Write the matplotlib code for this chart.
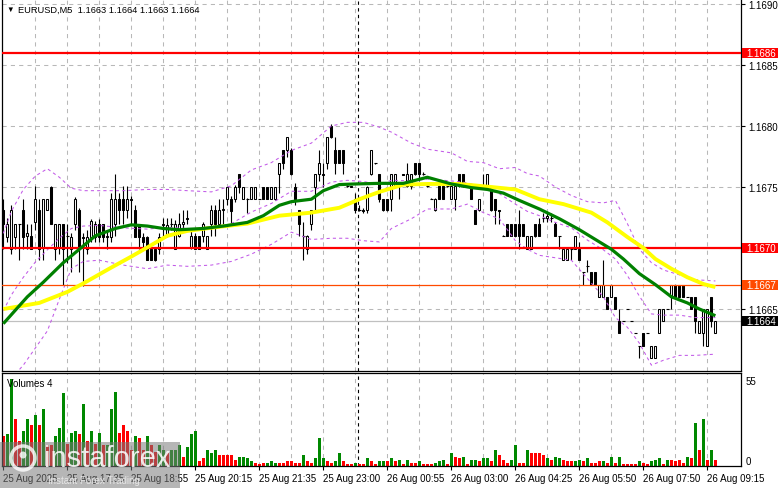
import numpy as np
import matplotlib
matplotlib.use("Agg")
import matplotlib.pyplot as plt
from matplotlib.patches import Rectangle, Ellipse
from matplotlib.transforms import blended_transform_factory

plt.rcParams['font.family'] = ['Liberation Sans', 'DejaVu Sans']

# ---------------- data (prices as pips above 1.1660) ----------------
BASE = 1.1660
PIP = 0.0001

open_pips = [
    13.1, 10.9, 9.9, 10.9, 12.0, 13.1, 11.0, 11.0, 12.1, 13.1,
    10.0, 13.1, 15.0, 9.9, 10.0, 12.0, 11.0, 9.9, 12.0, 13.1,
    10.9, 9.9, 10.9, 10.9, 12.0, 12.0, 10.9, 10.9, 12.0, 14.0,
    14.0, 13.1, 14.0, 13.1, 12.0, 10.9, 10.9, 9.9, 9.9, 9.9,
    11.9, 11.0, 12.0, 9.9, 11.0, 12.0, 12.5, 10.1, 11.0, 11.0,
    11.0, 9.9, 12.0, 13.1, 12.0, 13.1, 14.0, 14.0, 14.0, 16.1,
    14.0, 14.0, 14.0, 14.0, 14.0, 15.0, 15.0, 14.0, 14.0, 16.1,
    18.0, 18.0, 18.0, 15.0, 13.1, 11.0, 9.9, 12.0, 15.0, 16.1,
    16.1, 17.0, 20.0, 18.0, 18.0, 18.0, 15.1, 15.1, 14.0, 13.1,
    13.1, 13.1, 16.1, 17.0, 16.1, 14.0, 14.0, 14.0, 15.1, 15.1,
    16.1, 15.1, 15.1, 17.0, 17.0, 16.1, 15.1, 14.0, 13.1, 15.1,
    15.1, 15.1, 14.0, 14.0, 16.1, 16.1, 15.1, 15.1, 13.1, 13.1,
    15.1, 15.1, 15.1, 14.0, 13.1, 11.0, 12.0, 12.0, 12.0, 12.0,
    12.0, 9.9, 9.9, 12.0, 12.0, 12.5, 12.5, 12.5, 12.0, 11.0,
    9.0, 9.0, 9.9, 9.9, 9.9, 8.0, 8.5, 8.0, 8.0, 6.0,
    6.0, 6.0, 6.0, 6.0, 4.0, 4.0, 5.0, 4.0, 3.0, 2.0,
    3.0, 3.0, 1.0, 1.0, 3.0, 4.0, 5.0, 6.0, 7.0, 7.0,
    7.0, 6.0, 6.0, 6.0, 3.0, 3.0, 2.0, 6.0, 3.0]
high_pips = [
    14.0, 12.5, 13.5, 12.0, 12.0, 14.0, 12.0, 12.0, 15.1, 14.0,
    14.0, 14.0, 15.1, 12.0, 12.0, 12.0, 12.0, 11.2, 14.2, 13.3,
    11.2, 11.5, 12.4, 12.2, 12.4, 12.0, 11.5, 14.5, 16.1, 14.5,
    15.1, 15.1, 14.3, 13.5, 12.0, 11.2, 11.0, 10.2, 10.0, 11.2,
    12.5, 12.5, 12.5, 12.3, 12.9, 13.1, 13.1, 11.5, 11.2, 11.0,
    12.1, 11.0, 13.5, 13.5, 14.0, 14.0, 15.0, 14.3, 15.2, 16.1,
    15.0, 14.1, 15.0, 15.0, 14.0, 15.0, 15.0, 15.0, 15.0, 17.0,
    18.0, 19.1, 18.2, 15.3, 13.1, 12.1, 11.1, 13.1, 16.1, 18.0,
    17.0, 19.1, 20.2, 19.1, 18.0, 18.0, 15.2, 15.1, 14.5, 13.5,
    13.3, 15.1, 18.0, 17.0, 16.1, 14.0, 14.0, 16.1, 16.1, 15.2,
    16.1, 17.0, 16.1, 17.0, 17.0, 16.2, 15.2, 14.1, 14.1, 15.1,
    15.2, 15.1, 15.1, 15.1, 16.1, 16.1, 15.1, 15.1, 13.1, 14.0,
    16.1, 16.1, 15.1, 14.0, 13.1, 11.1, 12.0, 12.0, 12.0, 13.1,
    12.0, 11.0, 11.0, 12.0, 12.5, 12.9, 12.9, 12.9, 12.1, 11.0,
    9.9, 9.9, 9.9, 11.0, 10.5, 8.0, 9.0, 8.0, 8.0, 7.0,
    9.0, 6.0, 7.0, 6.0, 5.0, 4.0, 5.0, 4.0, 3.0, 2.0,
    3.0, 3.0, 2.0, 2.0, 5.0, 5.0, 5.0, 7.0, 7.0, 7.0,
    7.0, 6.0, 6.0, 6.0, 4.0, 5.0, 5.0, 6.0, 4.0]
low_pips = [
    9.9, 10.5, 9.5, 9.9, 9.0, 9.9, 9.9, 9.9, 11.5, 9.0,
    9.0, 13.1, 12.0, 9.0, 9.5, 7.0, 8.8, 8.0, 11.5, 8.0,
    6.9, 9.5, 10.5, 10.5, 10.5, 10.5, 9.9, 10.5, 11.0, 12.0,
    12.0, 12.5, 12.0, 10.9, 9.9, 9.9, 9.0, 9.0, 8.9, 9.5,
    10.9, 10.9, 11.5, 9.9, 10.9, 11.5, 12.0, 9.9, 9.9, 9.9,
    10.5, 9.9, 11.0, 11.0, 12.0, 12.0, 13.5, 12.0, 13.8, 14.5,
    14.0, 12.9, 14.0, 14.0, 14.0, 14.0, 14.0, 14.0, 13.9, 14.5,
    16.5, 17.5, 16.0, 13.5, 11.0, 9.0, 9.5, 11.5, 13.0, 15.5,
    15.0, 16.5, 19.0, 16.1, 17.0, 16.1, 15.0, 15.0, 12.9, 13.0,
    12.9, 12.9, 16.0, 16.9, 13.8, 13.0, 13.0, 13.0, 15.0, 14.0,
    16.0, 15.0, 14.8, 16.0, 15.5, 16.0, 15.0, 14.0, 13.0, 14.0,
    14.0, 15.0, 14.0, 13.1, 15.0, 15.0, 15.0, 14.0, 12.0, 13.0,
    15.0, 15.0, 13.0, 12.0, 12.0, 11.0, 11.0, 11.0, 11.0, 9.9,
    11.0, 9.9, 9.9, 10.9, 11.0, 12.1, 12.1, 12.1, 11.0, 9.9,
    9.0, 9.0, 9.0, 9.9, 9.0, 7.0, 8.0, 7.0, 7.0, 6.0,
    6.0, 5.0, 6.0, 5.0, 3.0, 4.0, 5.0, 4.0, 3.0, 1.0,
    2.0, 3.0, 1.0, 1.0, 3.0, 4.0, 5.0, 5.0, 6.0, 6.0,
    6.0, 6.0, 5.0, 3.0, 3.0, 2.0, 2.0, 3.5, 3.0]
close_pips = [
    12.0, 12.0, 13.1, 12.0, 12.0, 10.9, 11.2, 9.9, 14.0, 9.9,
    14.0, 14.0, 12.0, 12.0, 12.0, 9.9, 11.0, 10.9, 14.0, 9.9,
    10.8, 10.9, 12.2, 12.0, 10.9, 10.9, 11.0, 14.0, 14.0, 13.1,
    13.1, 14.0, 13.9, 10.9, 10.9, 10.5, 9.0, 9.0, 9.0, 10.9,
    12.0, 11.9, 12.0, 12.0, 12.0, 12.1, 12.4, 11.0, 9.9, 9.9,
    12.0, 11.0, 13.1, 12.0, 13.1, 13.2, 15.0, 13.0, 15.0, 15.0,
    15.0, 14.0, 15.0, 15.0, 14.0, 14.0, 14.0, 15.0, 15.0, 17.0,
    17.0, 19.1, 16.1, 14.0, 12.0, 11.0, 11.0, 13.1, 16.1, 17.0,
    16.0, 19.1, 19.1, 17.0, 17.0, 17.0, 15.1, 15.0, 13.1, 13.1,
    13.0, 15.0, 18.0, 17.0, 14.0, 13.1, 13.1, 16.1, 16.1, 15.1,
    16.0, 16.1, 16.1, 16.1, 16.1, 16.1, 15.1, 14.0, 14.0, 14.0,
    14.0, 15.1, 15.1, 15.1, 15.1, 15.1, 15.0, 14.0, 12.0, 14.0,
    15.1, 16.1, 13.1, 13.1, 13.0, 11.0, 11.0, 11.0, 11.0, 11.0,
    11.0, 11.0, 11.0, 11.0, 11.0, 12.5, 12.6, 12.5, 11.0, 11.0,
    9.9, 9.9, 9.9, 11.0, 9.0, 8.0, 8.5, 7.0, 7.0, 7.0,
    7.0, 5.0, 7.0, 5.0, 3.0, 4.0, 5.0, 4.0, 3.0, 2.0,
    2.0, 3.0, 2.0, 2.0, 5.0, 5.0, 5.0, 7.0, 6.0, 6.0,
    6.0, 6.0, 5.0, 4.0, 4.0, 5.0, 5.0, 4.0, 4.0]

volumes = [
    19, 20, 55, 30, 16, 22, 30, 26, 32, 26,
    36, 13, 13, 19, 24, 46, 14, 21, 22, 20,
    39, 16, 22, 14, 21, 13, 13, 36, 47, 21,
    26, 22, 10, 19, 18, 10, 19, 13, 9, 13,
    10, 8, 10, 10, 13, 6, 12, 20, 22, 3,
    5, 10, 8, 10, 7, 7, 7, 7, 4, 6,
    6, 5, 3, 2, 1, 2, 2, 3, 2, 2,
    2, 3, 3, 2, 2, 7, 3, 2, 5, 18,
    5, 3, 2, 3, 8, 3, 1, 1, 2, 1,
    1, 5, 3, 1, 3, 3, 3,
    5, 3, 4, 1, 4, 2, 2, 3, 1, 1,
    1, 2, 3, 4, 1, 8, 6, 5, 6, 1,
    4, 4, 3, 5, 5, 3, 10, 7, 4, 2,
    4, 13, 2, 2, 10, 8, 8, 8, 7, 5,
    4, 6, 5, 4, 3, 3, 3, 4, 3, 5,
    2, 2, 3, 3, 2, 6, 2, 6, 1, 1,
    1, 1, 3, 2, 1, 3, 4, 5, 1, 4,
    4, 3, 4, 2, 6, 5, 27, 10, 30, 4,
    10, 4]
volume_up = ("rggrrggrgr" "grrgggrggr" "grgrgrgggr" "rrrgrrgrrg"
             "grgggrgggr" "rgggrrrrrg" "gggrrrgggr" "rrrrrgrrgg"
             "grrggrrrgr" "rgrrggr"
             "grgrgrrgrr" "rgggrgrrgr" "ggrggrgrrr" "ggrrgrrrrg"
             "rggrrrggrg" "rrrgrgrgrr" "rrgrrgggrg" "rrrrgrgrgr" "gr")

fast_ma_idx = [0, 6, 10, 15, 19, 23, 28, 32, 36, 40, 44, 50, 55, 61, 65, 69, 72,
               77, 80, 84, 88, 94, 100, 106, 112, 117, 121, 125, 129, 134, 139,
               144, 149, 152, 155, 159, 163, 167, 171, 174, 178]
fast_ma_pips = [3.8, 6.0, 7.2, 8.8, 9.9, 11.0, 11.6, 11.9, 11.8, 11.6, 11.5, 11.6,
                11.8, 12.1, 12.65, 13.5, 13.8, 14.0, 14.7, 15.2, 15.25, 15.3, 15.3,
                15.8, 15.25, 14.95, 14.8, 14.5, 13.9, 13.2, 12.4, 11.5, 10.5, 9.9,
                9.1, 7.9, 7.0, 6.0, 5.5, 5.0, 4.45]
slow_ma_idx = [0, 9, 16, 20, 27, 32, 36, 41, 46, 53, 61, 69, 77, 84, 89, 94, 100,
               106, 114, 122, 128, 134, 140, 147, 151, 156, 160, 163, 167, 171, 175, 178]
slow_ma_pips = [5.0, 5.5, 6.4, 7.1, 8.4, 9.3, 10.05, 11.0, 11.4, 11.7, 12.0, 12.65,
                12.9, 13.3, 14.0, 14.6, 15.2, 15.25, 15.25, 15.0, 14.8, 14.0, 13.6,
                12.9, 12.1, 10.9, 10.0, 9.1, 8.3, 7.6, 7.05, 6.8]

bb_idx = [0, 2, 5, 8, 11, 14, 17, 20, 24, 30, 36, 41, 46, 52, 57, 62, 67, 72, 77,
          82, 86, 90, 94, 97, 102, 106, 112, 116, 120, 124, 128, 131, 134, 138,
          142, 146, 150, 153, 156, 159, 162, 165, 169, 173, 178]
bb_upper_pips = [11.2, 13.0, 14.8, 15.9, 16.5, 15.8, 14.9, 14.7, 14.7, 14.7, 14.8,
                 14.8, 14.7, 14.6, 15.1, 16.4, 17.0, 18.0, 18.6, 20.0, 20.3, 20.3,
                 19.9, 19.5, 18.6, 18.1, 17.8, 17.1, 17.0, 16.5, 16.6, 16.1, 15.9,
                 15.0, 14.3, 13.8, 13.7, 13.9, 12.0, 9.9, 8.8, 8.2, 7.8, 7.4, 7.3]
bb_lower_pips = [-1.5, -0.7, 0.4, 1.8, 3.2, 5.8, 8.3, 8.9, 9.0, 8.6, 8.3, 8.6, 8.5,
                 8.6, 8.9, 9.5, 10.3, 11.3, 10.7, 10.8, 10.8, 10.6, 10.5, 11.6, 12.4,
                 13.2, 13.2, 13.6, 12.9, 12.4, 10.6, 9.9, 9.4, 9.2, 9.0, 7.5, 6.0,
                 4.3, 3.5, 2.2, 0.4, 0.8, 1.2, 1.2, 1.3]

red_levels = [1.1686, 1.1670]
orange_level = 1.1667
bid_price = 1.1664
price_ticks = [1.1665, 1.1675, 1.1680, 1.1685, 1.1690]
price_grid = [1.1665, 1.1670, 1.1675, 1.1680, 1.1685, 1.1690]
time_idx = [0, 16, 32, 48, 64, 80, 96, 112, 128, 144, 160, 176]
time_labels = ["25 Aug 2025", "25 Aug 17:35", "25 Aug 18:55", "25 Aug 20:15",
               "25 Aug 21:35", "25 Aug 23:00", "26 Aug 00:55", "26 Aug 03:00",
               "26 Aug 04:25", "26 Aug 05:50", "26 Aug 07:50", "26 Aug 09:15"]
day_separator = 88.75
title = "EURUSD,M5  1.1663 1.1664 1.1663 1.1664"

# ---------------- figure ----------------
W, H = 781, 489
fig = plt.figure(figsize=(W / 100, H / 100), dpi=100)
fig.patch.set_facecolor("white")


def fx(px):
    return px / W


def fy(py):
    return 1 - py / H


ax = fig.add_axes([fx(2), fy(372), fx(741) - fx(2), fy(0) - fy(372)])
axv = fig.add_axes([fx(2), fy(467), fx(741) - fx(2), fy(374) - fy(467)])

XL = (-0.33, 184.4)
for a in (ax, axv):
    a.set_xlim(*XL)
    a.set_facecolor("white")
    for s in a.spines.values():
        s.set_linewidth(0.9)
        s.set_color("black")
ax.spines["top"].set_visible(False)
ax.set_ylim(1.165992, 1.169041)
axv.set_ylim(0, 58.8)

grid_kw = dict(color="#b8b8b8", lw=0.75, dashes=(4, 4), zorder=0.5)
for gx in range(8, 177, 8):
    ax.axvline(gx, **grid_kw)
    axv.axvline(gx, **grid_kw)
for gy in price_grid:
    ax.axhline(gy, **grid_kw)
for a in (ax, axv):
    a.axvline(day_separator, color="black", lw=0.8, dashes=(3, 3), zorder=0.6)

# level lines
ax.axhline(bid_price, color="#c0c0c0", lw=0.9, zorder=0.8)
for lv in red_levels:
    ax.axhline(lv, color="#ff0000", lw=1.6, zorder=4)
ax.axhline(orange_level, color="#ff4a00", lw=0.9, zorder=4)

# candles
o = np.asarray(open_pips)
h = np.asarray(high_pips)
l = np.asarray(low_pips)
c = np.asarray(close_pips)
x = np.arange(len(o))
P = lambda v: BASE + np.asarray(v) * PIP
ax.vlines(x, P(l), P(h), color="black", lw=0.8, zorder=2)
up = c > o
dn = c < o
eq = c == o
ax.bar(x[up], (c - o)[up] * PIP, bottom=P(o[up]), width=0.55, facecolor="white",
       edgecolor="black", linewidth=0.75, zorder=2.5)
ax.bar(x[dn], (o - c)[dn] * PIP, bottom=P(c[dn]), width=0.55, facecolor="black",
       edgecolor="black", linewidth=0.75, zorder=2.5)
ax.hlines(P(c[eq]), x[eq] - 0.42, x[eq] + 0.42, color="black", lw=0.8, zorder=2.5)

# bollinger bands
bu = np.asarray(bb_upper_pips)
bl = np.asarray(bb_lower_pips)
bb_kw = dict(color="#c25ae8", lw=0.75, dashes=(3, 3), zorder=3)
ax.plot(bb_idx, P(bu), **bb_kw)
ax.plot(bb_idx, P(bl), **bb_kw)
ax.plot(bb_idx, P((bu + bl) / 2), **bb_kw)

# moving averages
ax.plot(slow_ma_idx, P(slow_ma_pips), color="#ffff00", lw=2.8, zorder=5,
        solid_capstyle="butt")
ax.plot(fast_ma_idx, P(fast_ma_pips), color="#008000", lw=2.3, zorder=5.5,
        solid_capstyle="butt")

# price axis
ax.yaxis.tick_right()
ax.set_yticks(price_ticks)
ax.set_yticklabels([f"{t:.4f}" for t in price_ticks])
ax.tick_params(axis="y", length=3, width=0.8, pad=2, labelsize=7)
ax.set_xticks([])

bt = blended_transform_factory(ax.transAxes, ax.transData)
box_w = 36 / 739
box_h = 10 / 12.2 * PIP
for price, col in [(red_levels[0], "#ff0000"), (red_levels[1], "#ff0000"),
                   (orange_level, "#ff4a00"), (bid_price, "black")]:
    ax.add_patch(Rectangle((1.0014, price - box_h / 2), box_w, box_h, transform=bt,
                           facecolor=col, edgecolor="none", clip_on=False, zorder=6))
    ax.text(1.0068, price, f"{price:.4f}", transform=bt, color="white", fontsize=7,
            va="center", ha="left", zorder=7, clip_on=False)

# volumes
vcol = ["#008800" if ch == "g" else "#ff0000" for ch in volume_up]
axv.bar(np.arange(len(volumes)), volumes, width=0.68, color=vcol, linewidth=0, zorder=2)
axv.set_yticks([])
axv.set_xticks(time_idx)
axv.set_xticklabels(time_labels, ha="left")
axv.tick_params(axis="x", length=3, width=0.8, pad=2, labelsize=7)

fig.text(fx(746), fy(382), "55", fontsize=7, va="center", ha="left")
fig.text(fx(746), fy(462), "0", fontsize=7, va="center", ha="left")
fig.text(fx(7), fy(384), "Volumes 4", fontsize=7, va="center", ha="left")

# title
fig.text(fx(6), fy(10.5), "▼", fontsize=5.5, va="center", ha="left")
fig.text(fx(18), fy(10.5), title, fontsize=6.7, va="center", ha="left")

# watermark
fig.patches.append(Rectangle((0, 0), fx(180), 46 / H, transform=fig.transFigure,
                             facecolor="#7a7a7a", alpha=0.55, edgecolor="none", zorder=10))
fig.patches.append(Ellipse((fx(23), fy(459)), 24 / W, 24 / H, transform=fig.transFigure,
                           fill=False, edgecolor="white", lw=2.5, alpha=0.8, zorder=11))
fig.patches.append(Ellipse((fx(23), fy(456)), 7 / W, 7 / H, transform=fig.transFigure,
                           facecolor="white", edgecolor="none", alpha=0.8, zorder=11))
fig.text(fx(44), fy(467), "instaforex", fontsize=21, color="white", alpha=0.85,
         va="baseline", ha="left", zorder=11)
fig.text(fx(48), fy(484), "Instant Forex Trading", fontsize=7, color="#e6e6e6",
         va="baseline", ha="left", zorder=11)

fig.savefig("out.png", dpi=100, facecolor="white")
